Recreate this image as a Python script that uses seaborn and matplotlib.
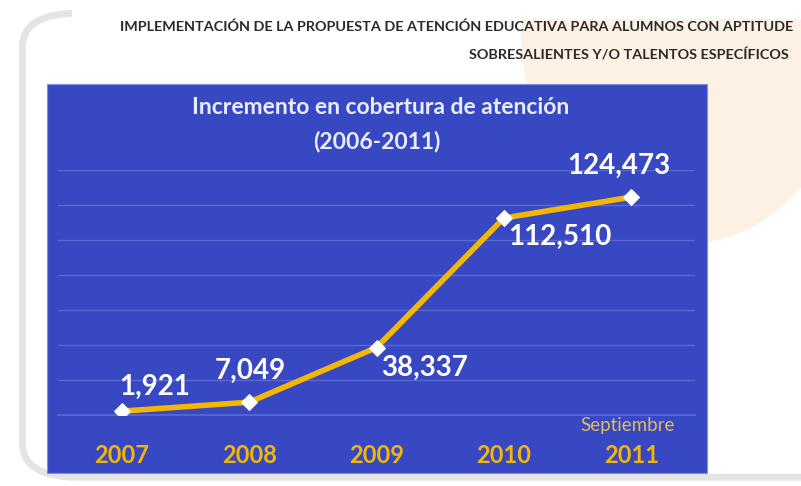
import matplotlib
matplotlib.use("Agg")
import matplotlib.pyplot as plt
from matplotlib.patches import FancyBboxPatch, Rectangle, Ellipse
import seaborn as sns
import pandas as pd
import numpy as np

years = ["2007", "2008", "2009", "2010", "2011"]
values = [1921, 7049, 38337, 112510, 124473]
labels = ["1,921", "7,049", "38,337", "112,510", "124,473"]
header1 = "IMPLEMENTACIÓN DE LA PROPUESTA DE ATENCIÓN EDUCATIVA PARA ALUMNOS CON APTITUDE"
header2 = "SOBRESALIENTES Y/O TALENTOS ESPECÍFICOS"
title1 = "Incremento en cobertura de atención"
title2 = "(2006-2011)"
note = "Septiembre"

sns.set_theme(style="white")
plt.rcParams['font.family'] = ['Lato', 'DejaVu Sans']

df = pd.DataFrame({"pos": np.arange(len(years)), "value": values})

fig = plt.figure(figsize=(8.01, 4.86), dpi=100)
fig.patch.set_facecolor("white")

# soft peach decoration on the right
fig.patches.append(Ellipse((0.86, 0.95), 0.42, 0.9, transform=fig.transFigure,
                           facecolor="#fdf1e4", edgecolor="none", zorder=0))
fig.patches.append(Ellipse((1.02, 0.25), 0.22, 0.7, transform=fig.transFigure,
                           facecolor="white", edgecolor="none", zorder=0.1))
# card with shadow (left and bottom)
fig.patches.append(FancyBboxPatch((0.028, 0.018), 1.2, 0.955, boxstyle="round,pad=0,rounding_size=0.07",
                                  transform=fig.transFigure, facecolor="none",
                                  edgecolor="#cfcfcf", lw=5, alpha=0.55, zorder=0.5))
fig.patches.append(Rectangle((0.09, 0.96), 1.0, 0.06, transform=fig.transFigure,
                             facecolor="white", edgecolor="none", zorder=0.55))
# blue panel
fig.patches.append(Rectangle((0.0587, 0.0267), 0.824, 0.800, transform=fig.transFigure,
                             facecolor="#3848c2", edgecolor="#8090e0", lw=0.8, zorder=1))

fig.text(0.99, 0.944, header1, ha="right", va="center", fontsize=10.4, fontweight="bold",
         color="#2a2a2a", zorder=3)
fig.text(0.985, 0.887, header2, ha="right", va="center", fontsize=10.4, fontweight="bold",
         color="#2a2a2a", zorder=3)

ax = fig.add_axes([0.0724, 0.1471, 0.7953, 0.5031])
ax.set_facecolor("none")
ax.set_zorder(2)

sns.lineplot(data=df, x="pos", y="value", ax=ax, color="#f2b705", lw=4,
             marker="D", markersize=8, markerfacecolor="white", markeredgecolor="white",
             zorder=3)

ax.set_xlim(-0.5, 4.5)
ax.set_ylim(0, 140000)
ax.set_yticks(np.arange(0, 140001, 20000))
ax.yaxis.grid(True, color="#5a68d0", lw=1)
ax.set_yticklabels([])
ax.tick_params(axis="y", length=0)
ax.set_xticks(np.arange(len(years)))
ax.set_xticklabels(years, fontsize=17, fontweight="bold", color="#f2b705")
ax.tick_params(axis="x", length=0, pad=21)
ax.set_xticks(np.arange(-0.5, 4.6, 1), minor=True)
ax.tick_params(axis="x", which="minor", length=7, color="#5a68d0", direction="out")
for s in ["top", "right", "left"]:
    ax.spines[s].set_visible(False)
ax.spines["bottom"].set_color("#5a68d0")
ax.set_xlabel("")
ax.set_ylabel("")

offsets = [(-0.02, 14000, "left"), (-0.27, 18000, "left"), (0.04, -11500, "left"),
           (0.03, -11000, "left"), (-0.5, 18000, "left")]
for i, (v, lab) in enumerate(zip(values, labels)):
    dx, dy, ha = offsets[i]
    ax.text(i + dx, v + dy, lab, ha=ha, va="center", fontsize=20, fontweight="bold",
            color="white", zorder=4)

ax.text(3.97, -6500, note, ha="center", va="center", fontsize=13.5, color="#e0bb5a", zorder=4)

fig.text(0.475, 0.778, title1, ha="center", va="center", fontsize=16.5, fontweight="bold",
         color="#e8ecff", zorder=3)
fig.text(0.470, 0.708, title2, ha="center", va="center", fontsize=16.5, fontweight="bold",
         color="#e8ecff", zorder=3)

fig.savefig("out.png", dpi=100)
